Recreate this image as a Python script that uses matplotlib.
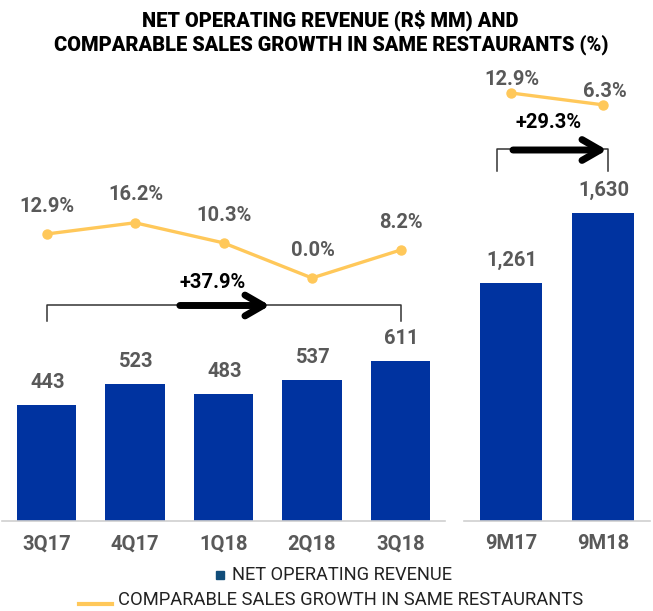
import matplotlib
matplotlib.use("Agg")
import matplotlib.pyplot as plt
from matplotlib.lines import Line2D
from matplotlib.transforms import Affine2D, blended_transform_factory

plt.rcParams['font.family'] = ['Roboto', 'DejaVu Sans']

# ---- data ----
q_labels = ["3Q17", "4Q17", "1Q18", "2Q18", "3Q18"]
q_revenue = [443, 523, 483, 537, 611]
q_sss = [12.9, 16.2, 10.3, 0.0, 8.2]

ytd_labels = ["9M17", "9M18"]
ytd_revenue = [1261, 1630]
ytd_sss = [12.9, 6.3]

q_growth = "+37.9%"
ytd_growth = "+29.3%"

title_lines = ["NET OPERATING REVENUE (R$ MM) AND",
               "COMPARABLE SALES GROWTH IN SAME RESTAURANTS (%)"]
legend_bar = "NET OPERATING REVENUE"
legend_line = "COMPARABLE SALES GROWTH IN SAME RESTAURANTS"

# ---- style ----
BAR = "#0033A0"
LINE = "#FFC85A"
GRAY = "#595959"
VAL_FS = 14.5
W, H = 653, 611
fig = plt.figure(figsize=(W / 100, H / 100), dpi=100)
fig.patch.set_facecolor("white")
renderer = fig.canvas.get_renderer()

def px_axes(x0, x1, ytop, ybot):
    return fig.add_axes([x0 / W, 1 - ybot / H, (x1 - x0) / W, (ybot - ytop) / H])

# pixel transform (x, y measured from top-left in pixels)
px = Affine2D().scale(1 / W, -1 / H).translate(0, 1) + fig.transFigure

def fit_text(x, y, s, target_w, ha="center", **kw):
    t = fig.text(x / W, 1 - y / H, s, ha=ha, va="center", fontsize=10, **kw)
    w = t.get_window_extent(renderer).width
    t.set_fontsize(10 * target_w / w)
    return t

def style_bar_axes(ax, labels):
    for s in ["top", "right", "left"]:
        ax.spines[s].set_visible(False)
    ax.spines["bottom"].set_color("#d0d0d0")
    ax.spines["bottom"].set_linewidth(1.2)
    ax.set_yticks([])
    ax.set_xticks(range(len(labels)))
    ax.set_xticklabels(labels, fontsize=VAL_FS, fontweight="bold", color=GRAY)
    ax.tick_params(axis="x", length=0, pad=9.5)
    ax.patch.set_alpha(0)

def bar_labels(ax, vals):
    for i, v in enumerate(vals):
        ax.annotate(f"{v:,}", (i, v), xytext=(0.8, 16.5), textcoords="offset points",
                    ha="center", va="center", fontsize=VAL_FS, fontweight="bold", color=GRAY)

TOP, BASE = 60, 521

# left bars
axL = px_axes(2.25, 444.75, TOP, BASE)
axL.bar(range(len(q_revenue)), q_revenue, width=0.667, color=BAR)
axL.set_xlim(-0.5, 4.5)
axL.set_ylim(0, (BASE - TOP) / 0.262)
style_bar_axes(axL, q_labels)
bar_labels(axL, q_revenue)

# right bars
axR = px_axes(464, 650, TOP, BASE)
axR.bar(range(len(ytd_revenue)), ytd_revenue, width=0.67, color=BAR)
axR.set_xlim(-0.51, 1.51)
axR.set_ylim(0, (BASE - TOP) / 0.1887)
style_bar_axes(axR, ytd_labels)
bar_labels(axR, ytd_revenue)

def line_twin(ax, zero_px, scale):
    t = ax.twinx()
    t.set_ylim(-(BASE - zero_px) / scale, (zero_px - TOP) / scale)
    t.axis("off")
    return t

# left line
alL = line_twin(axL, 278, 3.41)
alL.plot(range(len(q_sss)), q_sss, color=LINE, lw=2.4, marker="o", ms=6.5, clip_on=False)
for i, v in enumerate(q_sss):
    alL.annotate(f"{v:.1f}%", (i, v), xytext=(0.5, 20), textcoords="offset points",
                 ha="center", va="center", fontsize=VAL_FS, fontweight="bold", color=GRAY)

# right line
alR = line_twin(axR, 116.2, 1.8)
alR.plot(range(len(ytd_sss)), ytd_sss, color=LINE, lw=2.4, marker="o", ms=6.5, clip_on=False)
for i, v in enumerate(ytd_sss):
    alR.annotate(f"{v:.1f}%", (i, v), xytext=(1.0, 9.5), textcoords="offset points",
                 ha="center", va="center", fontsize=VAL_FS, fontweight="bold", color=GRAY)

def bracket(ax, x0, x1, ytop, ybot, ax0, ax1, label, lx, ly):
    tr = blended_transform_factory(ax.transData, px)
    ax.plot([x0, x0, x1, x1], [ybot, ytop, ytop, ybot], transform=tr,
            color="#333333", lw=1.1, clip_on=False)
    ax.annotate("", xy=(ax1, ytop + 1), xytext=(ax0, ytop + 1),
                xycoords=tr, textcoords=tr,
                arrowprops=dict(arrowstyle="->,head_length=1.3,head_width=0.75",
                                lw=5, color="black", capstyle="round", joinstyle="round",
                                shrinkA=0, shrinkB=0), annotation_clip=False)
    ax.text(lx, ly, label, transform=tr, ha="center", va="center",
            fontsize=VAL_FS, fontweight="bold", color="black")

# left bracket spans 3Q17..3Q18 (data x 0..4)
bracket(alL, 0, 4, 304.5, 321, 1.507, 2.525, q_growth, 1.876, 282)
# right bracket spans 9M17..9M18
bracket(alR, -0.152, 1.054, 149, 171, 0.022, 1.043, ytd_growth, 0.413, 122)

# title
fit_text(330, 20, title_lines[0], 374, fontweight="heavy", color="black")
fit_text(331, 45, title_lines[1], 552, fontweight="heavy", color="black")

# legend
fig.add_artist(Line2D([220 / W], [1 - 575 / H], color="#114D7A", marker="s", ls="none", ms=5.5))
fit_text(232, 575, legend_bar, 220, ha="left", color="#222222")
fig.add_artist(Line2D([79 / W, 112 / W], [1 - 604 / H, 1 - 604 / H], color=LINE, lw=3))
fit_text(118, 600, legend_line, 464, ha="left", color="#222222")

fig.savefig("out.png", dpi=100, facecolor="white")
